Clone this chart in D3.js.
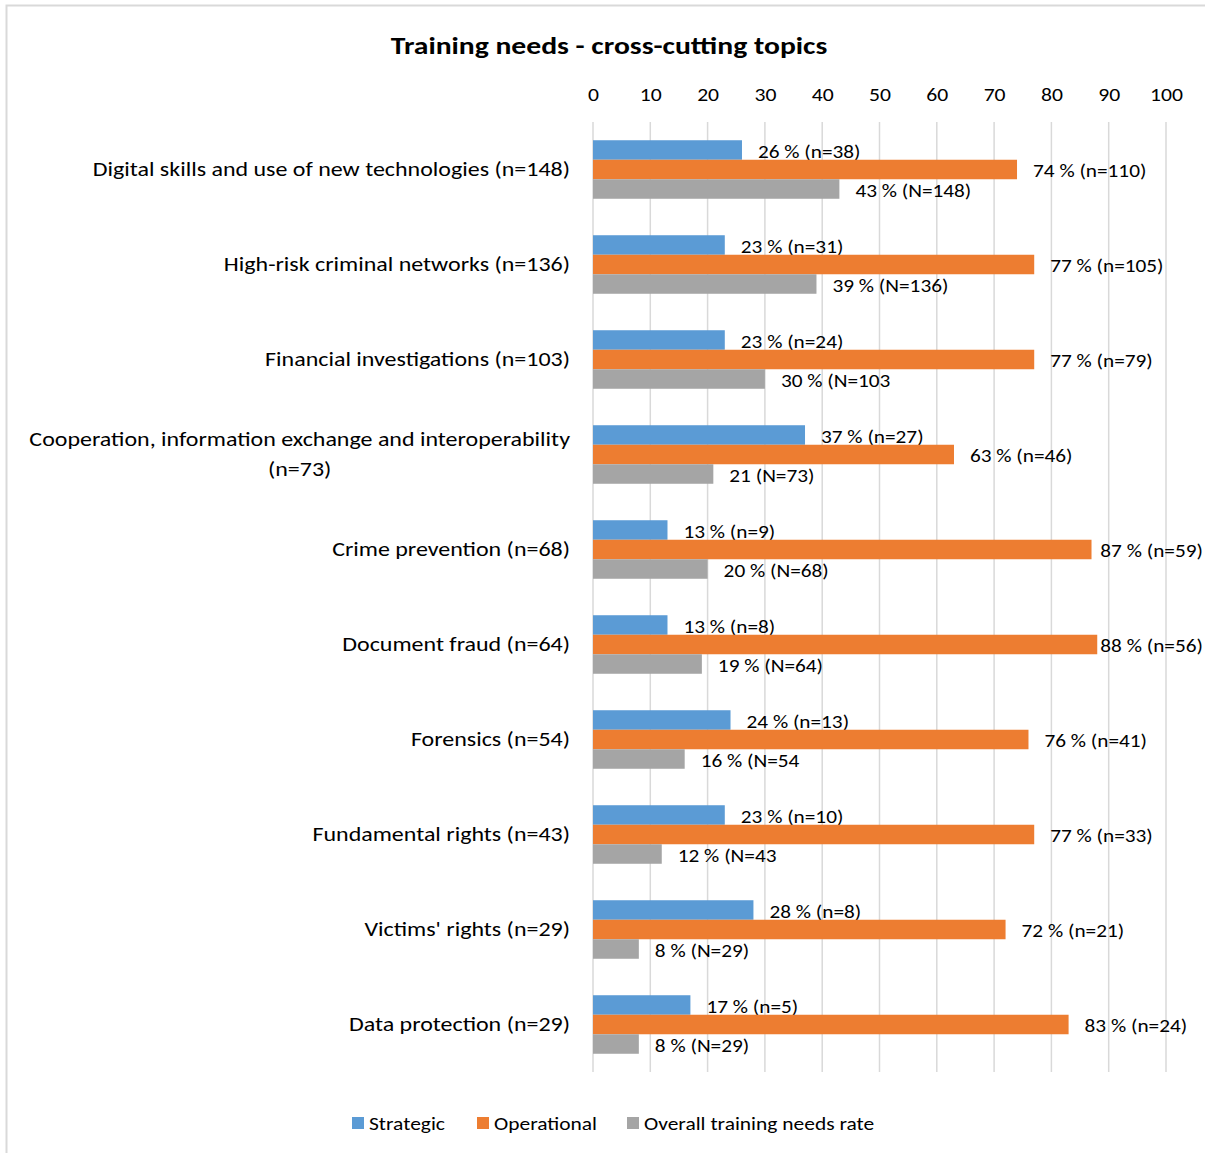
<!DOCTYPE html>
<html>
<head>
<meta charset="utf-8">
<script src="https://cdn.jsdelivr.net/npm/d3@7/dist/d3.min.js"></script>
<style>
  html, body { margin: 0; padding: 0; background: #fff; }
  svg text { font-family: Carlito, Lato, "Open Sans", sans-serif; fill: #000; }
</style>
</head>
<body>
<svg id="chart" width="1205" height="1153"></svg>
<script>
// Topics and their counts
const categories = [
  "Digital skills and use of new technologies (n=148)",
  "High-risk criminal networks (n=136)",
  "Financial investigations (n=103)",
  "Cooperation, information exchange and interoperability|(n=73)",
  "Crime prevention (n=68)",
  "Document fraud (n=64)",
  "Forensics (n=54)",
  "Fundamental rights (n=43)",
  "Victims' rights (n=29)",
  "Data protection (n=29)"
];

const seriesNames = ["Strategic", "Operational", "Overall training needs rate"];

// Percentages per series
const strategic   = [26, 23, 23, 37, 13, 13, 24, 23, 28, 17];
const operational = [74, 77, 77, 63, 87, 88, 76, 77, 72, 83];
const overall     = [43, 39, 30, 21, 20, 19, 16, 12, 8, 8];

// Data labels as printed next to each bar
const strategicLabels = ["26 % (n=38)", "23 % (n=31)", "23 % (n=24)", "37 % (n=27)", "13 % (n=9)",
  "13 % (n=8)", "24 % (n=13)", "23 % (n=10)", "28 % (n=8)", "17 % (n=5)"];
const operationalLabels = ["74 % (n=110)", "77 % (n=105)", "77 % (n=79)", "63 % (n=46)", "87 % (n=59)",
  "88 % (n=56)", "76 % (n=41)", "77 % (n=33)", "72 % (n=21)", "83 % (n=24)"];
const overallLabels = ["43 % (N=148)", "39 % (N=136)", "30 % (N=103", "21 (N=73)", "20 % (N=68)",
  "19 % (N=64)", "16 % (N=54", "12 % (N=43", "8 % (N=29)", "8 % (N=29)"];

const tickValues = [0, 10, 20, 30, 40, 50, 60, 70, 80, 90, 100];

const colors = ["#5b9bd5", "#ed7d31", "#a5a5a5"];
const seriesValues = [strategic, operational, overall];
const seriesLabels = [strategicLabels, operationalLabels, overallLabels];

const svg = d3.select("#chart");
const W = 1205, H = 1153;

// Place a text at (x, y) and widen its glyphs horizontally by k
function placeWide(sel, x, y, k) {
  sel.attr("x", 0).attr("y", 0)
    .attr("transform", `translate(${x},${y}) scale(${k},1)`);
  return sel;
}

// Chart frame
svg.append("rect")
  .attr("x", 6.5).attr("y", 5.5)
  .attr("width", W + 10).attr("height", H + 10)
  .attr("fill", "none").attr("stroke", "#d9d9d9").attr("stroke-width", 2);

const plot = { left: 593, right: 1166, top: 122, bottom: 1072 };
const labelLimit = 1203; // data labels are kept inside the chart area

const x = d3.scaleLinear().domain([0, 100]).range([plot.left, plot.right]);
const y = d3.scaleBand().domain(d3.range(categories.length))
  .range([plot.top, plot.bottom]).paddingInner(0.384).paddingOuter(0.192);
const ySub = d3.scaleBand().domain(d3.range(3)).range([0, y.bandwidth()]);

// Title
placeWide(svg.append("text"), 609, 45, 1.185)
  .attr("text-anchor", "middle").attr("dominant-baseline", "central")
  .style("font-size", "25px").style("font-weight", "bold")
  .text("Training needs - cross-cutting topics");

// Top axis labels
const xAxis = d3.axisTop(x).tickValues(tickValues).tickSize(0).tickPadding(0);
const axisG = svg.append("g").attr("transform", `translate(0,${94})`).call(xAxis);
axisG.select(".domain").remove();
axisG.selectAll("text")
  .attr("dy", null).attr("y", 0)
  .attr("dominant-baseline", "central")
  .attr("transform", "scale(1.14,1)")
  .style("font-size", "19px")
  .style("font-family", "Carlito, Lato, 'Open Sans', sans-serif");

// Vertical gridlines
svg.append("g").selectAll("line")
  .data(tickValues)
  .join("line")
  .attr("x1", d => x(d)).attr("x2", d => x(d))
  .attr("y1", plot.top).attr("y2", plot.bottom)
  .attr("stroke", "#d9d9d9").attr("stroke-width", 1.5);

// Bars with their data labels
const labelK = 1.12;
const groups = svg.append("g").selectAll("g")
  .data(categories.map((c, i) => i))
  .join("g")
  .attr("transform", i => `translate(0,${y(i)})`);

groups.each(function(i) {
  const g = d3.select(this);
  seriesValues.forEach((vals, s) => {
    g.append("rect")
      .attr("x", x(0))
      .attr("y", ySub(s))
      .attr("width", x(vals[i]) - x(0))
      .attr("height", ySub.bandwidth())
      .attr("fill", colors[s]);
    const t = g.append("text")
      .attr("dominant-baseline", "central")
      .style("font-size", "19px")
      .text(seriesLabels[s][i]);
    const w = t.node().getComputedTextLength() * labelK;
    const lx = Math.min(x(vals[i]) + 16, labelLimit - w);
    placeWide(t, lx, ySub(s) + ySub.bandwidth() / 2 + 1, labelK);
  });
});

// Category labels (right aligned, wrapped lines centred under the first)
const catK = 1.17;
const catG = svg.append("g");
categories.forEach((c, i) => {
  const lines = c.split("|");
  const cy = y(i) + y.bandwidth() / 2;
  if (lines.length === 1) {
    placeWide(catG.append("text"), 570, cy, catK)
      .attr("text-anchor", "end").attr("dominant-baseline", "central")
      .style("font-size", "20.5px")
      .text(lines[0]);
  } else {
    const t1 = placeWide(catG.append("text"), 570, cy - 15, catK)
      .attr("text-anchor", "end").attr("dominant-baseline", "central")
      .style("font-size", "20.5px")
      .text(lines[0]);
    const w = t1.node().getComputedTextLength() * catK;
    placeWide(catG.append("text"), 570 - w / 2, cy + 15, catK)
      .attr("text-anchor", "middle").attr("dominant-baseline", "central")
      .style("font-size", "20.5px")
      .text(lines[1]);
  }
});

// Legend
const legendX = [352, 477, 627];
const legend = svg.append("g").attr("transform", "translate(0,1117)");
seriesNames.forEach((name, s) => {
  legend.append("rect")
    .attr("x", legendX[s]).attr("y", 0)
    .attr("width", 12).attr("height", 12)
    .attr("fill", colors[s]);
  placeWide(legend.append("text"), legendX[s] + 17, 6, 1.13)
    .attr("dominant-baseline", "central")
    .style("font-size", "19px")
    .text(name);
});
</script>
</body>
</html>
